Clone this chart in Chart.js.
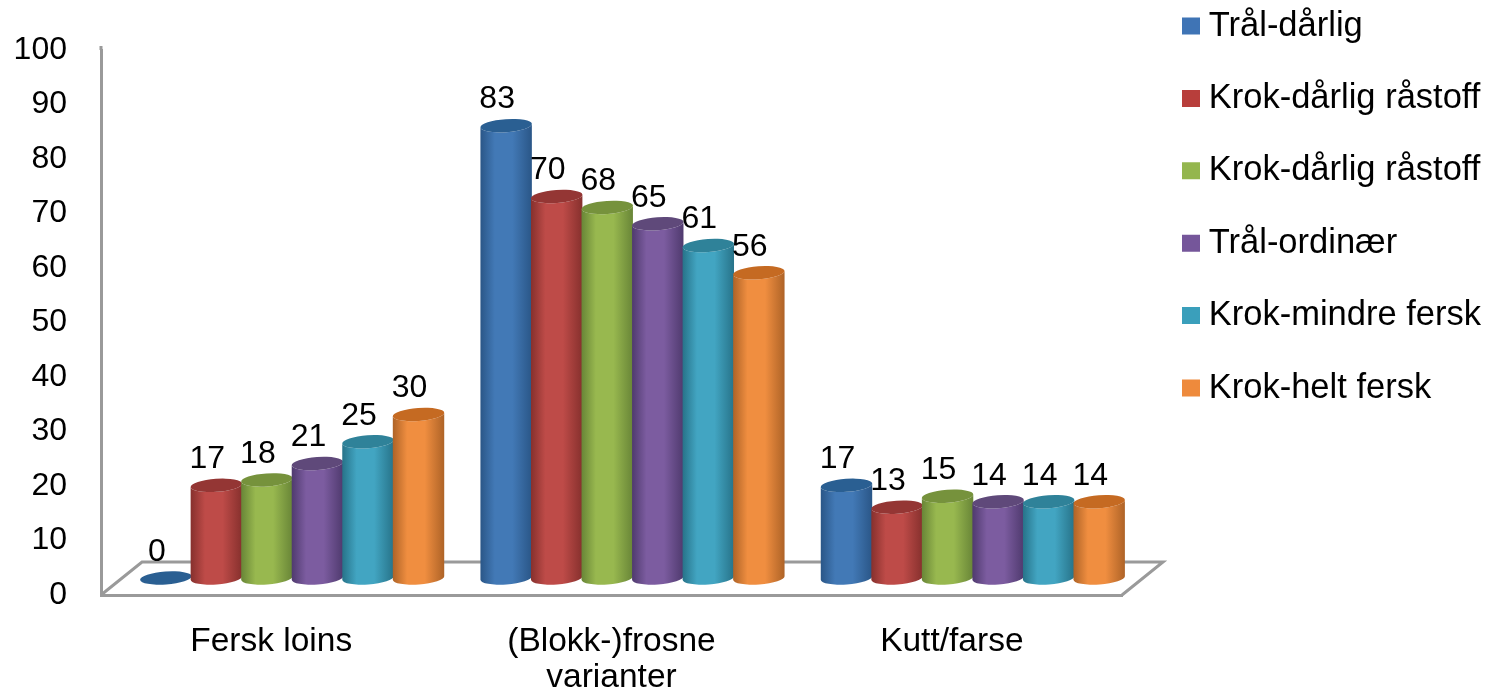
<!DOCTYPE html>
<html>
<head>
<meta charset="utf-8">
<style>html,body{margin:0;padding:0;background:#fff}#w{width:1493px;height:691px}</style>
<script src="https://cdn.jsdelivr.net/npm/chart.js@4"></script>
</head>
<body>
<div id="w"><canvas id="c"></canvas></div>
<script>
const categories = [["Fersk loins"], ["(Blokk-)frosne", "varianter"], ["Kutt/farse"]];
const seriesNames = ["Trål-dårlig", "Krok-dårlig råstoff", "Krok-dårlig råstoff", "Trål-ordinær", "Krok-mindre fersk", "Krok-helt fersk"];
const tralDarlig = [0, 83, 17];
const krokDarlig1 = [17, 70, 13];
const krokDarlig2 = [18, 68, 15];
const tralOrdinaer = [21, 65, 14];
const krokMindreFersk = [25, 61, 14];
const krokHeltFersk = [30, 56, 14];
const seriesValues = [tralDarlig, krokDarlig1, krokDarlig2, tralOrdinaer, krokMindreFersk, krokHeltFersk];
const legendColors = ["#3F74B5", "#B83E3B", "#94B64E", "#75569A", "#3A9FBB", "#EE8A3C"];
const edgeColors = ["#2A5687", "#86302D", "#688537", "#4F3A6E", "#277389", "#AE6327"];
const midColors = ["#4279B6", "#BE4B48", "#98B84F", "#7C5CA0", "#42A5C2", "#F08E40"];
const topColors = ["#2A5F92", "#943634", "#76923C", "#5F497A", "#2F8299", "#C56A22"];

const FONT = "'Liberation Sans', Arial, sans-serif";
const DEPTH_X = 41, DEPTH_Y = 33;     // floor depth
const BAR_DX = 21, BAR_DY = 17;       // bars stand mid-way on the floor
const RY = 6.5, TILT = -0.07;
const AXIS = "#9A9A9A";
const LEGEND_PAD = 37.9;

const cylinders = {
  id: "cylinders",
  afterLayout(chart) {
    const l = chart.legend;
    if (!l) return;
    l.left = 1190.5 - LEGEND_PAD; l.right = 1493; l.width = l.right - l.left;
    l.top = 26 - 17.25 - LEGEND_PAD; l.bottom = 691; l.height = l.bottom - l.top;
  },
  beforeDatasetsDraw(chart) {
    const ctx = chart.ctx, a = chart.chartArea;
    ctx.save();
    ctx.strokeStyle = AXIS; ctx.lineWidth = 3; ctx.lineJoin = "miter";
    ctx.beginPath();
    ctx.moveTo(a.left, a.top);
    ctx.lineTo(a.left, a.top - 4);
    ctx.moveTo(a.left, a.bottom);
    ctx.lineTo(a.left + DEPTH_X, a.bottom - DEPTH_Y);
    ctx.lineTo(a.right + DEPTH_X, a.bottom - DEPTH_Y);
    ctx.lineTo(a.right, a.bottom);
    ctx.stroke();
    chart.data.datasets.forEach((ds, i) => {
      chart.getDatasetMeta(i).data.forEach(el => {
        const x = el.x + BAR_DX, top = el.y - BAR_DY, bot = el.base - BAR_DY, rx = el.width / 2 + 0.5;
        if (bot - top > 0.5) {
          const g = ctx.createLinearGradient(x - rx, 0, x + rx, 0);
          g.addColorStop(0, edgeColors[i]);
          g.addColorStop(0.28, midColors[i]);
          g.addColorStop(0.62, midColors[i]);
          g.addColorStop(1, edgeColors[i]);
          ctx.fillStyle = g;
          ctx.beginPath();
          ctx.ellipse(x, bot, rx, RY, TILT, 0, Math.PI);
          ctx.ellipse(x, top, rx, RY, TILT, Math.PI, 0, true);
          ctx.closePath();
          ctx.fill();
        }
        ctx.fillStyle = topColors[i];
        ctx.beginPath();
        ctx.ellipse(x, top, rx, RY, TILT, 0, Math.PI * 2);
        ctx.fill();
      });
    });
    ctx.fillStyle = "#000";
    ctx.font = "32px " + FONT;
    ctx.textAlign = "center"; ctx.textBaseline = "middle";
    chart.data.datasets.forEach((ds, i) => {
      chart.getDatasetMeta(i).data.forEach((el, j) => {
        ctx.fillText(String(ds.data[j]), el.x + BAR_DX - 9, el.y - BAR_DY - 26);
      });
    });
    ctx.restore();
    return false;
  }
};

new Chart(document.getElementById("c"), {
  type: "bar",
  data: {
    labels: categories,
    datasets: seriesNames.map((n, i) => ({
      label: n, data: seriesValues[i], backgroundColor: legendColors[i],
      barPercentage: 1, categoryPercentage: 0.891
    }))
  },
  options: {
    responsive: true, maintainAspectRatio: false, animation: false,
    layout: { padding: { left: 0, top: 50, right: 371, bottom: 0 } },
    plugins: {
      tooltip: { enabled: false },
      legend: {
        position: "chartArea", align: "start",
        labels: {
          color: "#000", padding: LEGEND_PAD, boxWidth: 1, boxHeight: 0.01,
          font: { family: FONT, size: 34.5, lineHeight: 1 },
          generateLabels: () => seriesNames.map((n, i) => ({
            text: n, fillStyle: legendColors[i], strokeStyle: legendColors[i], lineWidth: 17,
            hidden: false, datasetIndex: i, fontColor: "#000"
          }))
        }
      }
    },
    scales: {
      x: {
        grid: { display: false },
        border: { color: AXIS, width: 3 },
        afterFit(s) { s.height = 96; },
        ticks: { color: "#000", padding: 21, maxRotation: 0, autoSkip: false,
                 font: { family: FONT, size: 33.5, lineHeight: 1.07 } }
      },
      y: {
        min: 0, max: 100,
        grid: { display: false },
        border: { color: AXIS, width: 3 },
        afterFit(s) { s.width = 101; },
        ticks: { color: "#000", stepSize: 10, padding: 26,
                 font: { family: FONT, size: 32 } }
      }
    }
  },
  plugins: [cylinders]
});
</script>
</body>
</html>
